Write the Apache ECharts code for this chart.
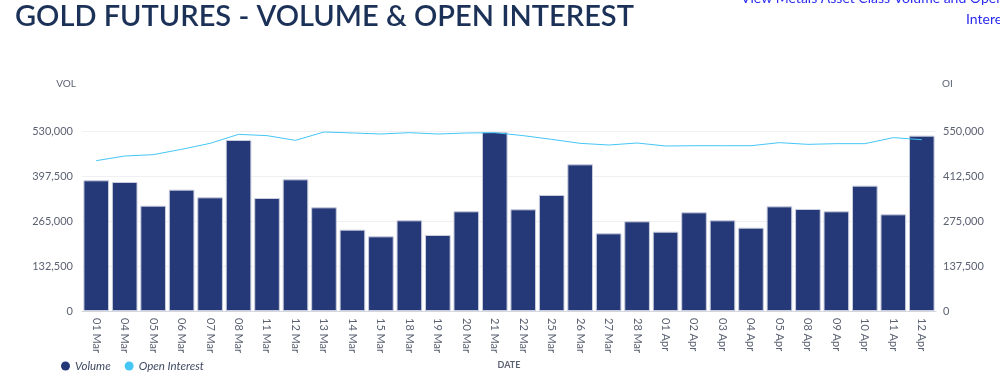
<!DOCTYPE html>
<html>
<head>
<meta charset="utf-8">
<script src="https://cdn.jsdelivr.net/npm/echarts@6/dist/echarts.min.js"></script>
<style>
  html, body { margin: 0; padding: 0; background: #fff; }
  #chart { width: 1000px; height: 377px; }
</style>
</head>
<body>
<div id="chart"></div>
<script>
// 日期
const dates = ['01 Mar', '04 Mar', '05 Mar', '06 Mar', '07 Mar', '08 Mar', '11 Mar', '12 Mar', '13 Mar', '14 Mar',
  '15 Mar', '18 Mar', '19 Mar', '20 Mar', '21 Mar', '22 Mar', '25 Mar', '26 Mar', '27 Mar', '28 Mar',
  '01 Apr', '02 Apr', '03 Apr', '04 Apr', '05 Apr', '08 Apr', '09 Apr', '10 Apr', '11 Apr', '12 Apr']
// 成交量
const volume = [384800, 379800, 310100, 357300, 334700, 503500, 332700, 387700, 305200, 239500,
  219800, 266900, 223800, 293500, 527100, 299400, 341600, 431800, 228700, 264000,
  233600, 290500, 266900, 245400, 308100, 300300, 293500, 369100, 284600, 516300]
// 持仓量
const openInterest = [459300, 473600, 477700, 494000, 512300, 539800, 535800, 521400, 547000, 544000,
  540800, 544900, 540800, 543800, 544900, 535800, 524500, 512300, 507200, 513300,
  504200, 505000, 505000, 505000, 514400, 509200, 511300, 511300, 529700, 523500]

const labelColor = '#5b6273'
const chart = echarts.init(document.getElementById('chart'))

const option = {
  animation: false,
  textStyle: { fontFamily: 'Lato, "Open Sans", sans-serif' },
  graphic: [
    {
      type: 'text', left: 15, top: 2,
      style: { text: 'GOLD FUTURES - VOLUME & OPEN INTEREST', fill: '#1b3157', font: '600 29px Lato, sans-serif' }
    },
    {
      type: 'text', left: 741, top: -9,
      style: { text: 'View Metals Asset Class Volume and Open', fill: '#2b2bf0', font: '14px Lato, sans-serif' }
    },
    {
      type: 'text', left: 966, top: 12,
      style: { text: 'Interest', fill: '#2b2bf0', font: '14px Lato, sans-serif' }
    }
  ],
  legend: {
    left: 56,
    bottom: 0,
    icon: 'circle',
    itemWidth: 9,
    itemHeight: 9,
    itemGap: 14,
    itemStyle: { borderWidth: 0 },
    textStyle: { color: '#3f4a63', fontStyle: 'italic', fontSize: 11.5 },
    data: ['Volume', 'Open Interest']
  },
  grid: { left: 82, right: 64, top: 131, bottom: 66 },
  xAxis: {
    type: 'category',
    data: dates,
    name: 'DATE',
    nameLocation: 'middle',
    nameGap: 50,
    nameTextStyle: { color: labelColor, fontSize: 9, fontWeight: 'bold' },
    axisLine: { lineStyle: { color: '#d4d7de' } },
    axisTick: { show: false },
    axisLabel: { rotate: -90, color: labelColor, fontSize: 11, margin: 7, interval: 0 }
  },
  yAxis: [
    {
      type: 'value',
      min: 0, max: 530000, interval: 132500,
      name: 'VOL',
      nameGap: 42,
      nameTextStyle: { color: labelColor, fontSize: 10, align: 'right', padding: [0, 6, 0, 0] },
      axisLine: { show: false },
      axisTick: { show: false },
      axisLabel: { color: labelColor, fontSize: 11, margin: 9, formatter: v => v.toLocaleString('en-US') },
      splitLine: { lineStyle: { color: '#f0f0f2' } }
    },
    {
      type: 'value',
      min: 0, max: 550000, interval: 137500,
      name: 'OI',
      nameGap: 42,
      nameTextStyle: { color: labelColor, fontSize: 10, align: 'left', padding: [0, 0, 0, 6] },
      axisLine: { show: false },
      axisTick: { show: false },
      axisLabel: { color: labelColor, fontSize: 11, margin: 7, formatter: v => v.toLocaleString('en-US') },
      splitLine: { show: false }
    }
  ],
  series: [
    {
      name: 'Volume',
      type: 'bar',
      yAxisIndex: 0,
      barCategoryGap: '10%',
      itemStyle: { color: '#253877', borderColor: '#c9cddd', borderWidth: 1 },
      data: volume
    },
    {
      name: 'Open Interest',
      type: 'line',
      yAxisIndex: 1,
      showSymbol: false,
      symbol: 'circle',
      itemStyle: { color: '#45c6f5' },
      lineStyle: { color: '#45c6f5', width: 1 },
      z: 3,
      data: openInterest
    }
  ]
}

chart.setOption(option)
</script>
</body>
</html>
